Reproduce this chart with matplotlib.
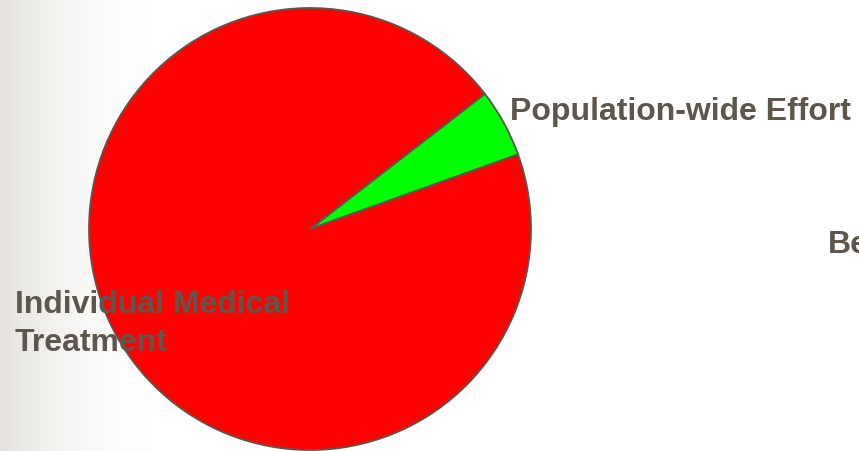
import numpy as np
import matplotlib.pyplot as plt

# slices (share of effort)
labels = ['Population-wide Effort', 'Individual Medical\nTreatment']
shares = [5, 95]
colors = ['#00ff00', '#ff0000']
extra_label = 'Be'

txt_color = '#5e564d'
edge_color = '#5e564d'

fig = plt.figure(figsize=(8.59, 4.51), dpi=100)
ax = fig.add_axes([0, 0, 1, 1])

# soft grey gradient on the left edge
t = np.linspace(0, 1, 256)
grad = 1 - (1 - t) ** 1.6
c0 = np.array([0.90, 0.89, 0.87])
img = c0[None, :] + (1 - c0)[None, :] * grad[:, None]
ax.imshow(img[None, :, :], extent=[0, 150, 0, 451], aspect='auto', zorder=0)

ax.pie(shares, colors=colors, startangle=19.7, center=(310, 222), radius=221,
       wedgeprops=dict(edgecolor=edge_color, linewidth=1.3), frame=True)
ax.set_xlim(0, 859)
ax.set_ylim(0, 451)
ax.set_aspect('equal')
ax.axis('off')

font = dict(family='Liberation Sans', weight='bold', size=23, color=txt_color)
ax.text(510, 339, labels[0], va='center', ha='left', **font)
ax.text(15, 127, labels[1], va='center', ha='left', linespacing=1.38, **font)
ax.text(828, 206, extra_label, va='center', ha='left', **font)

fig.savefig('out.png', dpi=100)
